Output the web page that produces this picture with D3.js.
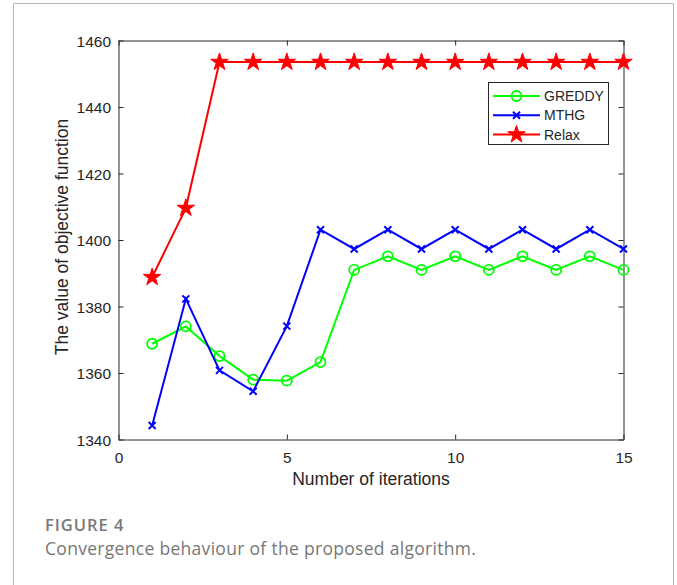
<!DOCTYPE html>
<html>
<head>
<meta charset="utf-8">
<script src="https://d3js.org/d3.v7.min.js"></script>
<style>
body { margin: 0; background: #fff; }
.tick text { font-family: "Liberation Sans", Arial, sans-serif; font-size: 15.5px; fill: #262626; }
.caption { font-family: "Open Sans", sans-serif; fill: #777; }
</style>
</head>
<body>
<svg id="chart" width="677" height="585"></svg>
<script>
// data
var iterations = [1, 2, 3, 4, 5, 6, 7, 8, 9, 10, 11, 12, 13, 14, 15];
var greddy = [1368.8, 1374.0, 1365.1, 1358.0, 1357.7, 1363.3, 1391.0, 1395.1, 1391.0, 1395.1, 1391.0, 1395.1, 1391.0, 1395.1, 1391.0];
var mthg = [1344.2, 1382.3, 1360.8, 1354.5, 1374.1, 1403.1, 1397.3, 1403.1, 1397.3, 1403.1, 1397.3, 1403.1, 1397.3, 1403.1, 1397.3];
var relax = [1388.8, 1409.6, 1453.5, 1453.5, 1453.5, 1453.5, 1453.5, 1453.5, 1453.5, 1453.5, 1453.5, 1453.5, 1453.5, 1453.5, 1453.5];
var seriesNames = ["GREDDY", "MTHG", "Relax"];
var xTicks = [0, 5, 10, 15];
var yTicks = [1340, 1360, 1380, 1400, 1420, 1440, 1460];

var svg = d3.select("#chart");

// outer figure frame
svg.append("path")
    .attr("d", "M13.5,585 V3.5 H673.5 V585")
    .attr("fill", "none")
    .attr("stroke", "#b5b5b5")
    .attr("stroke-width", 1);

var plotLeft = 118.5, plotRight = 623.5, plotTop = 40.5, plotBottom = 439.5;

var x = d3.scaleLinear().domain([0, 15]).range([plotLeft, plotRight]);
var y = d3.scaleLinear().domain([1340, 1460]).range([plotBottom, plotTop]);

var axisColor = "#262626";

// axes with inward ticks (matlab style, box on)
var gx = svg.append("g").attr("transform", "translate(0," + plotBottom + ")")
    .call(d3.axisBottom(x).tickValues(xTicks).tickSizeInner(-5).tickSizeOuter(0).tickPadding(12).tickFormat(d3.format("d")));
var gxTop = svg.append("g").attr("transform", "translate(0," + plotTop + ")")
    .call(d3.axisTop(x).tickValues(xTicks).tickSizeInner(-5).tickSizeOuter(0).tickFormat(""));
var gy = svg.append("g").attr("transform", "translate(" + plotLeft + ",0)")
    .call(d3.axisLeft(y).tickValues(yTicks).tickSizeInner(-5).tickSizeOuter(0).tickPadding(7.5).tickFormat(d3.format("d")));
var gyRight = svg.append("g").attr("transform", "translate(" + plotRight + ",0)")
    .call(d3.axisRight(y).tickValues(yTicks).tickSizeInner(-5).tickSizeOuter(0).tickFormat(""));

svg.selectAll(".domain").attr("stroke", axisColor);
svg.selectAll(".tick line").attr("stroke", axisColor);
svg.selectAll(".tick text").attr("font-family", null).attr("font-size", null);
gy.selectAll(".tick text").attr("dy", "0.36em");

svg.append("text")
    .attr("x", x(7.5)).attr("y", 485)
    .attr("text-anchor", "middle")
    .style("font-family", "Liberation Sans, Arial, sans-serif")
    .style("font-size", "17.5px")
    .attr("fill", "#262626")
    .text("Number of iterations");

svg.append("text")
    .attr("transform", "translate(68,237) rotate(-90)")
    .attr("text-anchor", "middle")
    .style("font-family", "Liberation Sans, Arial, sans-serif")
    .style("font-size", "17.5px")
    .attr("fill", "#262626")
    .text("The value of objective function");

var line = d3.line()
    .x(function(d) { return x(d[0]); })
    .y(function(d) { return y(d[1]); });

function drawMarker(g, type, color) {
    if (type === "circle") {
        g.append("circle").attr("r", 5).attr("fill", "none")
            .attr("stroke", color).attr("stroke-width", 1.8);
    } else if (type === "cross") {
        g.append("path").attr("d", "M-3.5,-3.5L3.5,3.5M-3.5,3.5L3.5,-3.5")
            .attr("stroke", color).attr("stroke-width", 2).attr("fill", "none");
    } else {
        g.append("path").attr("d", d3.symbol().type(d3.symbolStar).size(95)())
            .attr("fill", color).attr("stroke", color).attr("stroke-width", 1);
    }
}

var series = [
    { name: seriesNames[0], values: greddy, color: "#00ff00", marker: "circle" },
    { name: seriesNames[1], values: mthg, color: "#0000ff", marker: "cross" },
    { name: seriesNames[2], values: relax, color: "#ff0000", marker: "star" }
];

series.forEach(function(s) {
    var pts = iterations.map(function(it, i) { return [it, s.values[i]]; });
    svg.append("path")
        .datum(pts)
        .attr("fill", "none")
        .attr("stroke", s.color)
        .attr("stroke-width", 2)
        .attr("d", line);
    pts.forEach(function(p) {
        var g = svg.append("g").attr("transform", "translate(" + x(p[0]) + "," + y(p[1]) + ")");
        drawMarker(g, s.marker, s.color);
    });
});

// legend
var legend = svg.append("g");
legend.append("rect")
    .attr("x", 488.5).attr("y", 82.5).attr("width", 120).attr("height", 62)
    .attr("fill", "#fff").attr("stroke", axisColor).attr("stroke-width", 1);

series.forEach(function(s, i) {
    var ly = 96 + i * 19.3;
    legend.append("line")
        .attr("x1", 493).attr("x2", 540).attr("y1", ly).attr("y2", ly)
        .attr("stroke", s.color).attr("stroke-width", 2);
    var g = legend.append("g").attr("transform", "translate(516.5," + ly + ")");
    drawMarker(g, s.marker, s.color);
    legend.append("text")
        .attr("x", 544).attr("y", ly).attr("dy", "0.36em")
        .style("font-family", "Liberation Sans, Arial, sans-serif")
        .style("font-size", "14px")
        .attr("fill", "#262626")
        .text(s.name);
});

// caption
svg.append("text")
    .attr("class", "caption")
    .attr("x", 45).attr("y", 530.5)
    .style("font-size", "16.5px")
    .style("font-weight", "600")
    .style("letter-spacing", "1px")
    .attr("fill", "#666")
    .text("FIGURE 4");

svg.append("text")
    .attr("class", "caption")
    .attr("x", 45).attr("y", 554.5)
    .style("font-size", "17.5px")
    .style("letter-spacing", "0.3px")
    .text("Convergence behaviour of the proposed algorithm.");
</script>
</body>
</html>
